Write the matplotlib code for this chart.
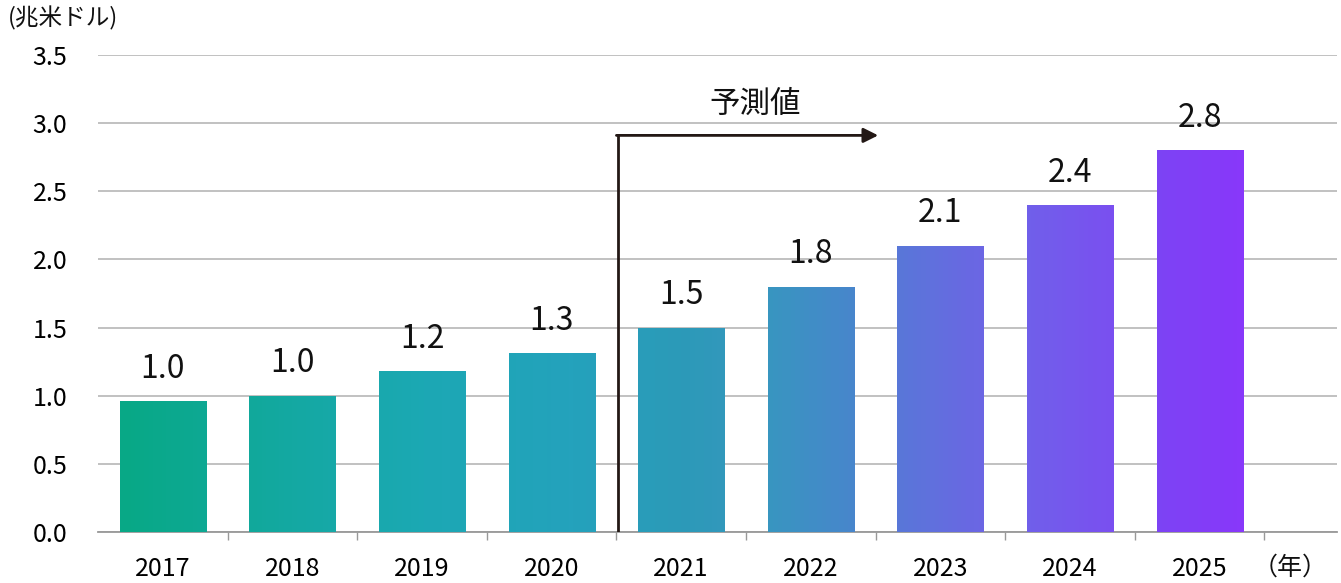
import numpy as np
import matplotlib
matplotlib.use("Agg")
from matplotlib import pyplot as plt
from matplotlib.colors import LinearSegmentedColormap

plt.rcParams['font.family'] = ['Noto Sans CJK JP', 'DejaVu Sans']

years = ['2017', '2018', '2019', '2020', '2021', '2022', '2023', '2024', '2025']
values = [0.96, 1.0, 1.18, 1.31, 1.5, 1.8, 2.1, 2.4, 2.8]
labels = ['1.0', '1.0', '1.2', '1.3', '1.5', '1.8', '2.1', '2.4', '2.8']
yticks = [0.0, 0.5, 1.0, 1.5, 2.0, 2.5, 3.0, 3.5]

grad = LinearSegmentedColormap.from_list('g', [
    (0.0, '#08a886'), (0.15, '#14a8a2'), (0.27, '#1ca8b4'), (0.40, '#24a2bc'),
    (0.50, '#2c9ab8'), (0.577, '#3896c0'), (0.654, '#4886cc'), (0.692, '#5878d8'),
    (0.769, '#6c66e4'), (0.808, '#7060ea'), (0.885, '#7a50f0'), (0.923, '#7c44f4'),
    (1.0, '#8838fa')])

fig = plt.figure(figsize=(13.41, 5.83), dpi=100)
ax = fig.add_axes([0.0731, 0.0875, 0.9239, 0.8182])

x = np.arange(len(years))
w = 0.665
xmin, xmax = -0.5, 9.06

# horizontal gradient across the whole chart, clipped to each bar
g = np.linspace(0, 1, 256).reshape(1, -1)
x0g, x1g = x[0] - w / 2, x[-1] + w / 2
bars = ax.bar(x, values, width=w, color='none', zorder=3)
for b in bars:
    im = ax.imshow(g, cmap=grad, extent=[x0g, x1g, 0, 3.5], aspect='auto',
                   zorder=3, interpolation='bicubic')
    im.set_clip_path(b)
ax.set_xlim(xmin, xmax)
ax.set_ylim(0, 3.5)

for xi, v, lab in zip(x, values, labels):
    ax.text(xi, v + 0.12, lab, ha='center', va='bottom', fontsize=23, color='#111111')

ax.set_yticks(yticks)
ax.set_yticklabels(['%.1f' % t for t in yticks], fontsize=18)
ax.yaxis.grid(True, color='#bcbcbc', linewidth=1.3, zorder=0)
ax.set_axisbelow(True)
ax.tick_params(axis='y', length=0, pad=22)

ax.set_xticks(x)
ax.set_xticklabels(years, fontsize=18)
ax.tick_params(axis='x', length=0, pad=17)
ax.set_xticks(np.arange(0.5, 8.6, 1), minor=True)
ax.tick_params(axis='x', which='minor', length=6, color='#999999', width=1)

for s in ['top', 'right', 'left']:
    ax.spines[s].set_visible(False)
ax.spines['bottom'].set_color('#999999')
ax.spines['bottom'].set_linewidth(1.3)

# forecast arrow
ax.plot([3.51, 3.51], [0, 2.91], color='#231815', linewidth=2, zorder=5)
ax.annotate('', xy=(5.52, 2.91), xytext=(3.50, 2.91),
            arrowprops=dict(arrowstyle='-|>', color='#231815', lw=2,
                            mutation_scale=22, shrinkA=0, shrinkB=0), zorder=5)
ax.text(4.57, 3.14, '予測値', ha='center', va='center', fontsize=22, color='#111111')

fig.text(0.006, 0.968, '(兆米ドル)', ha='left', va='center', fontsize=17, color='#111111')
ax.text(8.99, -0.26, '（年）', ha='right', va='center', fontsize=18, color='#111111')

fig.savefig('out.png', dpi=100)
